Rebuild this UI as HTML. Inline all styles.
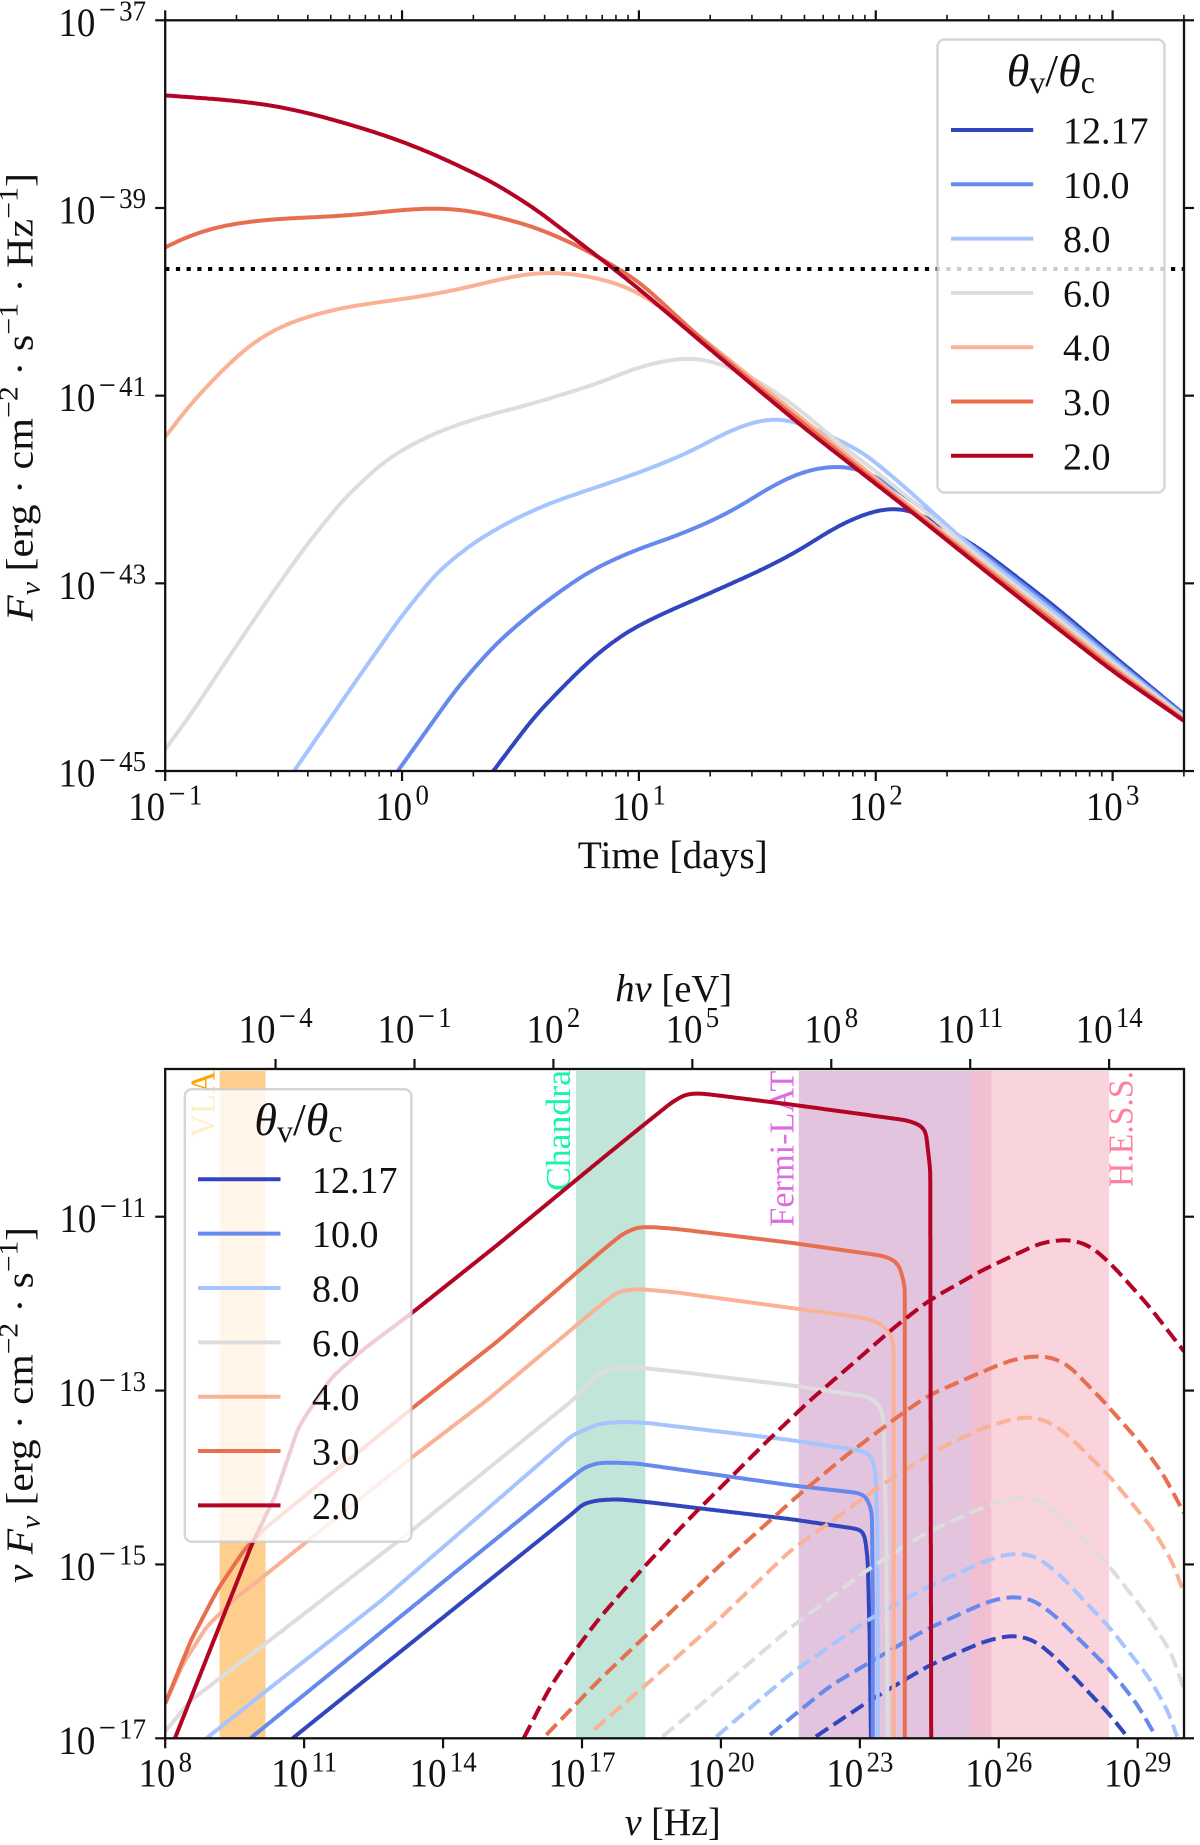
<!DOCTYPE html>
<html lang="en">
<head>
<meta charset="utf-8">
<title>Off-axis light curves and spectra</title>
<style>
html,body{margin:0;padding:0;background:#fff;width:1200px;height:1845px;overflow:hidden}
svg{display:block}
text{font-family:"Liberation Serif","DejaVu Serif",serif;fill:#111}
</style>
</head>
<body>
<svg id="figure" xmlns="http://www.w3.org/2000/svg" width="1200" height="1845" viewBox="0 0 1200 1845">
  <defs>
    <clipPath id="clipTop"><rect x="165.2" y="20.3" width="1018.8" height="750.7"/></clipPath>
    <clipPath id="clipBottom"><rect x="165.2" y="1069" width="1018.8" height="669.3"/></clipPath>
  </defs>
  <g id="panelTop"></g>
  <g id="panelBottom"></g>

  <text transform="translate(32.5,397) rotate(-90)" text-anchor="middle" font-size="38" textLength="448" lengthAdjust="spacingAndGlyphs"><tspan font-style="italic">F</tspan><tspan font-style="italic" font-size="27" dy="7">ν</tspan><tspan dy="-7"> [erg · cm</tspan><tspan font-size="27" dy="-15">−2</tspan><tspan dy="15"> · s</tspan><tspan font-size="27" dy="-15">−1</tspan><tspan dy="15"> · Hz</tspan><tspan font-size="27" dy="-15">−1</tspan><tspan dy="15">]</tspan></text>
  <text x="672.8" y="868" text-anchor="middle" font-size="39" textLength="190" lengthAdjust="spacingAndGlyphs">Time [days]</text>

  <text transform="translate(32.5,1405) rotate(-90)" text-anchor="middle" font-size="38" textLength="356" lengthAdjust="spacingAndGlyphs"><tspan font-style="italic">ν F</tspan><tspan font-style="italic" font-size="27" dy="7">ν</tspan><tspan dy="-7"> [erg · cm</tspan><tspan font-size="27" dy="-15">−2</tspan><tspan dy="15"> · s</tspan><tspan font-size="27" dy="-15">−1</tspan><tspan dy="15">]</tspan></text>
  <text x="672.7" y="1835" text-anchor="middle" font-size="39" textLength="96" lengthAdjust="spacingAndGlyphs"><tspan font-style="italic">ν</tspan> [Hz]</text>
  <text x="673.7" y="1001.7" text-anchor="middle" font-size="39" textLength="117" lengthAdjust="spacingAndGlyphs"><tspan font-style="italic">hν</tspan> [eV]</text>
</svg>
<script>
// ---- shared legend / series metadata ----
const thetaLabels = ['12.17', '10.0', '8.0', '6.0', '4.0', '3.0', '2.0'];
const seriesColors = ['#3146BE', '#6689EE', '#A6C4FE', '#DDDDDD', '#FAB297', '#E86E50', '#B40426'];

// ---- light curve panel: log10(t/days) and log10(F_nu) ----
const lcTickExpX = [-1, 0, 1, 2, 3];
const lcTickExpY = [-37, -39, -41, -43, -45];
const lcMinorMultipliers = [2, 3, 4, 5, 6, 7, 8, 9];
const lcLimitLevel = -39.65;

const lcTime_12_17 = [0.385,0.558,0.719,0.828,0.958,1.103,1.313,1.524,1.67,1.83,1.96,2.056,2.13,2.22,2.44,2.75,3.003,3.301];
const lcFlux_12_17 = [-45,-44.42,-44,-43.74,-43.5,-43.32,-43.09,-42.85,-42.66,-42.4,-42.25,-42.19,-42.2,-42.3,-42.63,-43.234,-43.772,-44.396];
const lcTime_10 = [-0.018,0.075,0.236,0.397,0.558,0.719,0.828,0.99,1.152,1.313,1.427,1.556,1.685,1.8,1.88,1.96,2.09,2.22,2.44,2.75,3.003,3.301];
const lcFlux_10 = [-45,-44.67,-44.1,-43.64,-43.29,-42.99,-42.82,-42.64,-42.5,-42.33,-42.18,-41.97,-41.81,-41.75,-41.75,-41.8,-42,-42.25,-42.66,-43.265,-43.8,-44.406];
const lcTime_8 = [-0.456,-0.328,-0.167,0,0.155,0.316,0.477,0.638,0.828,0.99,1.152,1.23,1.362,1.476,1.588,1.67,1.766,1.947,2.13,2.3,2.44,2.75,3.003,3.301];
const lcFlux_8 = [-45,-44.53,-43.94,-43.34,-42.86,-42.54,-42.31,-42.13,-41.97,-41.83,-41.67,-41.58,-41.4,-41.28,-41.23,-41.28,-41.38,-41.6,-41.99,-42.38,-42.69,-43.3,-43.826,-44.418];
const lcTime_6 = [-1,-0.89,-0.73,-0.569,-0.409,-0.247,-0.086,0.01,0.155,0.316,0.558,0.828,0.99,1.118,1.215,1.313,1.394,1.524,1.67,1.88,2.018,2.27,2.44,2.75,3.003,3.301];
const lcFlux_6 = [-44.77,-44.39,-43.78,-43.18,-42.61,-42.1,-41.72,-41.56,-41.38,-41.24,-41.08,-40.87,-40.7,-40.62,-40.59,-40.63,-40.71,-40.87,-41.13,-41.58,-41.84,-42.36,-42.73,-43.34,-43.857,-44.43];
const lcTime_4 = [-1,-0.89,-0.76,-0.634,-0.505,-0.376,-0.247,-0.086,0.075,0.235,0.397,0.525,0.638,0.751,0.828,0.908,1.005,1.152,1.313,1.524,1.815,2.12,2.44,2.75,3.003,3.301];
const lcFlux_4 = [-41.44,-41.08,-40.73,-40.44,-40.25,-40.14,-40.06,-40,-39.945,-39.87,-39.77,-39.7,-39.685,-39.71,-39.75,-39.8,-39.91,-40.16,-40.48,-40.91,-41.5,-42.13,-42.77,-43.38,-43.89,-44.445];
const lcTime_3 = [-1,-0.893,-0.78,-0.65,-0.489,-0.329,-0.167,0,0.139,0.268,0.397,0.558,0.719,0.815,1,1.265,1.524,1.815,2.12,2.44,2.75,3.003,3.301];
const lcFlux_3 = [-39.42,-39.29,-39.2,-39.145,-39.11,-39.095,-39.066,-39.02,-39,-39.02,-39.09,-39.2,-39.375,-39.5,-39.78,-40.4,-40.95,-41.54,-42.16,-42.795,-43.41,-43.917,-44.455];
const lcTime_2 = [-1,-0.73,-0.537,-0.36,-0.167,0,0.155,0.38,0.558,0.828,0.99,1.265,1.524,1.708,2.159,2.44,2.75,3.003,3.301];
const lcFlux_2 = [-37.8,-37.85,-37.91,-38.01,-38.15,-38.29,-38.45,-38.72,-39,-39.52,-39.84,-40.43,-40.98,-41.365,-42.254,-42.823,-43.444,-43.942,-44.466];

// ---- spectrum panel: log10(nu/Hz) and log10(nu F_nu) ----
const spTickExpX = [8, 11, 14, 17, 20, 23, 26, 29];
const spTickExpEv = [-4, -1, 2, 5, 8, 11, 14];
const spTickExpY = [-11, -13, -15, -17];
const spLogPlanck = -14.383;
const bandNames = ['VLA', 'Chandra', 'Fermi-LAT', 'H.E.S.S.'];
const bandLow = [9.175, 16.87, 21.68, 25.383];
const bandHigh = [10.166, 18.37, 25.84, 28.383];

const spNuA_12_17 = [10.75,16.85,17.02,17.37,17.78,18.37,21.52,23.05,23.11,23.17,23.21,23.24];
const spFluxA_12_17 = [-17,-14.39,-14.3,-14.26,-14.25,-14.28,-14.48,-14.6,-14.68,-14.95,-15.79,-17];
const spNuA_10 = [9.84,16.85,17.06,17.37,17.78,18.2,21.52,23.01,23.14,23.26,23.28,23.28];
const spFluxA_10 = [-17,-13.97,-13.88,-13.83,-13.83,-13.84,-14.09,-14.18,-14.22,-14.39,-15.41,-17];
const spNuA_8 = [8.89,10.12,12.68,16.8,17.37,17.87,18.37,21.52,23.09,23.24,23.34,23.38,23.39];
const spFluxA_8 = [-17,-16.48,-15.41,-13.51,-13.38,-13.36,-13.37,-13.57,-13.7,-13.74,-13.95,-14.64,-17];
const spNuA_6 = [8,8.56,10.12,13.3,16.8,17.37,17.7,18.12,19.03,21.52,23.17,23.36,23.47,23.51,23.57,23.6];
const spFluxA_6 = [-16.92,-16.56,-15.93,-14.62,-13.11,-12.8,-12.74,-12.73,-12.78,-12.94,-13.07,-13.13,-13.22,-13.34,-14.64,-17];
const spNuA_4 = [8,8.39,8.89,9.47,10.21,13.3,14.95,17.37,17.78,18.2,19.03,21.52,23.17,23.51,23.69,23.73,23.73];
const spFluxA_4 = [-16.6,-16.14,-15.72,-15.41,-15.1,-13.78,-13.11,-12.03,-11.86,-11.83,-11.87,-12.05,-12.17,-12.25,-12.36,-12.53,-17];
const spNuA_3 = [8,8.56,9.13,9.71,10.12,13.34,15.16,17.37,17.87,18.2,18.53,19.03,21.52,23.5,23.75,23.86,23.97,23.97];
const spFluxA_3 = [-16.6,-15.87,-15.29,-14.83,-14.6,-13.2,-12.44,-11.42,-11.2,-11.12,-11.12,-11.14,-11.3,-11.45,-11.5,-11.57,-11.8,-17];
const spNuA_2 = [8.21,9.878,10.37,10.87,11.12,11.61,12.27,13.32,15.16,17.37,18.2,18.95,19.24,19.53,19.86,21.52,24,24.25,24.42,24.52,24.54];
const spFluxA_2 = [-17,-14.76,-14.22,-13.43,-13.22,-12.84,-12.53,-12.11,-11.33,-10.36,-10,-9.68,-9.59,-9.58,-9.6,-9.71,-9.89,-9.93,-10,-10.46,-17];

const spNuB_12_17 = [22.05,23.17,24.5,25.66,26.16,26.49,26.83,27.32,28.4,28.77];
const spFluxB_12_17 = [-16.98,-16.58,-16.16,-15.89,-15.82,-15.82,-15.89,-16.12,-16.73,-16.98];
const spNuB_10 = [21.06,22.35,23.17,24.42,25.66,26.08,26.41,26.74,27.24,28.4,28.98,29.35];
const spFluxB_10 = [-16.96,-16.4,-16.14,-15.75,-15.45,-15.38,-15.37,-15.4,-15.6,-16.21,-16.6,-16.94];
const spNuB_8 = [19.9,21.52,23.17,24.42,25.66,26.16,26.49,26.83,27.32,28.4,29.23,29.64,29.85];
const spFluxB_8 = [-16.98,-16.25,-15.64,-15.27,-14.97,-14.88,-14.87,-14.91,-15.12,-15.73,-16.29,-16.67,-16.98];
const spNuB_6 = [18.74,19.86,21.52,23.17,24.42,25.66,26.25,26.58,26.91,27.32,28.4,29.23,29.73,29.98];
const spFluxB_6 = [-16.98,-16.48,-15.72,-15.06,-14.64,-14.34,-14.24,-14.22,-14.26,-14.43,-15.03,-15.6,-16.02,-16.41];
const spNuB_4 = [17.26,17.37,18.37,19.86,21.52,22.27,23.51,24.67,25.66,26.33,26.7,27.07,27.49,28.4,29.31,29.73,30];
const spFluxB_4 = [-16.9,-16.85,-16.39,-15.68,-14.83,-14.55,-14.07,-13.68,-13.43,-13.32,-13.3,-13.35,-13.51,-13.99,-14.58,-14.95,-15.33];
const spNuB_3 = [16.23,16.81,17.37,18.32,20.02,21.68,22.67,23.92,24.5,25.66,26.25,26.74,27.12,27.49,28.24,29.07,29.56,30];
const spFluxB_3 = [-16.96,-16.64,-16.33,-15.85,-14.99,-14.2,-13.76,-13.26,-13.05,-12.78,-12.65,-12.6,-12.61,-12.7,-13.11,-13.61,-13.97,-14.41];
const spNuB_2 = [15.74,16.31,16.81,17.37,18.32,19.36,20.19,21.02,21.93,22.76,23.75,24.5,25.66,26.9,27.41,27.74,28.07,28.49,29.23,30];
const spFluxB_2 = [-17,-16.41,-16.02,-15.62,-15.04,-14.45,-14.01,-13.57,-13.11,-12.73,-12.27,-11.96,-11.61,-11.3,-11.26,-11.28,-11.37,-11.58,-12.02,-12.55];

const lcTimes = [lcTime_12_17, lcTime_10, lcTime_8, lcTime_6, lcTime_4, lcTime_3, lcTime_2];
const lcFluxes = [lcFlux_12_17, lcFlux_10, lcFlux_8, lcFlux_6, lcFlux_4, lcFlux_3, lcFlux_2];
const spSolidNu = [spNuA_12_17, spNuA_10, spNuA_8, spNuA_6, spNuA_4, spNuA_3, spNuA_2];
const spSolidFlux = [spFluxA_12_17, spFluxA_10, spFluxA_8, spFluxA_6, spFluxA_4, spFluxA_3, spFluxA_2];
const spDashNu = [spNuB_12_17, spNuB_10, spNuB_8, spNuB_6, spNuB_4, spNuB_3, spNuB_2];
const spDashFlux = [spFluxB_12_17, spFluxB_10, spFluxB_8, spFluxB_6, spFluxB_4, spFluxB_3, spFluxB_2];

// ---- axis functions ----
const topBox = {l:165.2, r:1184, t:20.3, b:771};
const botBox = {l:165.2, r:1184, t:1069, b:1738.3};
function lcX(logT){ return topBox.l + (logT + 1) * 236.85; }
function lcY(logF){ return topBox.t + (-37 - logF) * 93.84; }
function spX(logNu){ return botBox.l + (logNu - 8) * 46.31; }
function spY(logF){ return botBox.b - (logF + 17) * 86.93; }

const SVG_NS = 'http://www.w3.org/2000/svg';
const panelTop = document.getElementById('panelTop');
const panelBottom = document.getElementById('panelBottom');
function shape(parent, tag, props){
  const node = document.createElementNS(SVG_NS, tag);
  for (const key in props) node.setAttribute(key, props[key]);
  parent.appendChild(node);
  return node;
}
// Rounds the polyline through the read values by walking along its length and averaging neighbours.
function smoothPath(xs, ys, fx, fy, sigma){
  const step = 1.5;
  const p = xs.map((v, i) => [fx(v), fy(ys[i])]);
  const q = [p[0]];
  for (let i = 0; i < p.length - 1; i++) {
    const len = Math.hypot(p[i+1][0] - p[i][0], p[i+1][1] - p[i][1]);
    const n = Math.max(1, Math.round(len / step));
    for (let k = 1; k <= n; k++) {
      q.push([p[i][0] + (p[i+1][0] - p[i][0]) * k / n, p[i][1] + (p[i+1][1] - p[i][1]) * k / n]);
    }
  }
  const s = sigma / step, rMax = Math.ceil(3 * s);
  let d = '';
  q.forEach((pt, i) => {
    const r = Math.min(rMax, i, q.length - 1 - i);
    let sx = 0, sy = 0, sw = 0;
    for (let j = -r; j <= r; j++) {
      const w = Math.exp(-0.5 * j * j / (s * s));
      sx += q[i + j][0] * w; sy += q[i + j][1] * w; sw += w;
    }
    d += (i ? 'L' : 'M') + (sx / sw).toFixed(1) + ' ' + (sy / sw).toFixed(1);
  });
  return d;
}
function powerLabel(parent, x, y, exp, anchor){
  const t = shape(parent, 'text', {transform: 'translate(' + x + ',' + y + ') scale(0.925,1)', 'text-anchor': anchor, 'font-size': 40});
  const base = shape(t, 'tspan', {});
  base.textContent = '10';
  if (exp < 0) {
    const minus = shape(t, 'tspan', {'font-size': 33, dx: 3.6, dy: -15.3, 'letter-spacing': 3.5});
    minus.textContent = '\u2212';
    const digits = shape(t, 'tspan', {'font-size': 29});
    digits.textContent = String(-exp);
  } else {
    const digits = shape(t, 'tspan', {'font-size': 29, dx: 3.6, dy: -15.3});
    digits.textContent = String(exp);
  }
  return t;
}
function tickLine(parent, x1, y1, x2, y2, width){
  return shape(parent, 'line', {x1: x1, y1: y1, x2: x2, y2: y2, stroke: '#111', 'stroke-width': width});
}
function frame(parent, box){
  return shape(parent, 'rect', {x: box.l, y: box.t, width: box.r - box.l, height: box.b - box.t, fill: 'none', stroke: '#111', 'stroke-width': 2.3});
}
function legend(parent, bx, by, bw, bh, lineX0, lineX1, textX, firstY, stepY, titleX, titleY){
  const group = shape(parent, 'g', {});
  
  
  const box = shape(group, 'rect', {x: bx, y: by, width: bw, height: bh, rx: 7, fill: '#fff', 'fill-opacity': 0.8, stroke: '#ccc', 'stroke-opacity': 0.8, 'stroke-width': 2.5});
  
  
  const title = shape(group, 'text', {x: titleX, y: titleY, 'text-anchor': 'middle', 'font-size': 46});
  
  
  const parts = [['\u03B8', 'italic', 46, 0], ['v', 'normal', 32, 7], ['/', 'normal', 46, -7], ['\u03B8', 'italic', 46, 0], ['c', 'normal', 32, 7]];
  parts.forEach(part => {
    const span = shape(title, 'tspan', {'font-style': part[1], 'font-size': part[2], dy: part[3]});
    span.textContent = part[0];
  });
  thetaLabels.forEach((label, i) => {
    const y = firstY + i * stepY;
    const swatch = shape(group, 'line', {x1: lineX0, x2: lineX1, y1: y, y2: y, stroke: seriesColors[i], 'stroke-width': 4});
    
    
    const txt = shape(group, 'text', {x: textX, y: y + 13.5, 'font-size': 38});
    
    
    txt.textContent = label;
  });
}

// ---- draw light curve panel ----
const lcLines = shape(panelTop, 'g', {'clip-path': 'url(#clipTop)', fill: 'none'});


lcTimes.forEach((times, i) => {
  const line = shape(lcLines, 'path', {d: smoothPath(times, lcFluxes[i], lcX, lcY, 15), stroke: seriesColors[i], 'stroke-width': 4, fill: 'none'});
  
  
});
const limitLine = shape(panelTop, 'line', {x1: topBox.l, x2: topBox.r, y1: lcY(lcLimitLevel), y2: lcY(lcLimitLevel), stroke: '#000', 'stroke-width': 4, 'stroke-dasharray': '4.2 6.5'});


legend(panelTop, 937.5, 39.5, 227, 453, 951, 1033.2, 1063, 130, 54.3, 1050.8, 86);

const lcAxes = shape(panelTop, 'g', {});


frame(lcAxes, topBox);
lcTickExpX.forEach(exp => {
  const x = lcX(exp);
  tickLine(lcAxes, x, topBox.b, x, topBox.b + 10, 2.2);
  tickLine(lcAxes, x, topBox.t, x, topBox.t - 10, 2.2);
  const label = powerLabel(lcAxes, x, 820, exp, 'middle');
  
  
  lcMinorMultipliers.forEach(m => {
    const lx = exp + Math.log10(m);
    if (lx > Math.log10(2000) + 1e-6) return;
    tickLine(lcAxes, lcX(lx), topBox.b, lcX(lx), topBox.b + 5.5, 1.6);
    tickLine(lcAxes, lcX(lx), topBox.t, lcX(lx), topBox.t - 5.5, 1.6);
  });
});
lcTickExpY.forEach(exp => {
  const y = lcY(exp);
  tickLine(lcAxes, topBox.l, y, topBox.l - 10, y, 2.2);
  tickLine(lcAxes, topBox.r, y, topBox.r + 10, y, 2.2);
  const label = powerLabel(lcAxes, 146, y + 15.5, exp, 'end');
  
  
});

// ---- draw spectrum panel ----
const bandFills = ['#FD9D1B', '#34A880', '#B66BAC', '#F7BDC9'];
const bandOpacity = [0.5, 0.3, 0.4, 0.65];
const bandTextColors = ['#FFA500', '#18F5A5', '#E06CE4', '#FF7F9F'];
const bandTextX = [214.5, 570, 793.3, 1132.7];
const bandTextBottom = [1137.7, 1191, 1226.7, 1187];
const bandTextLength = [67, 121, 156, 116];
const bands = shape(panelBottom, 'g', {});


bandNames.forEach((name, i) => {
  const x0 = spX(bandLow[i]), x1 = spX(bandHigh[i]);
  const rect = shape(bands, 'rect', {x: x0, y: 1071, width: x1 - x0, height: botBox.b - 1071, fill: bandFills[i], 'fill-opacity': bandOpacity[i]});
  
  
});
const bandLabels = shape(panelBottom, 'g', {'clip-path': 'url(#clipBottom)'});


bandNames.forEach((name, i) => {
  const txt = shape(bandLabels, 'text', {transform: 'translate(' + bandTextX[i] + ',' + bandTextBottom[i] + ') rotate(-90)', 'font-size': 35, textLength: bandTextLength[i], lengthAdjust: 'spacingAndGlyphs', style: 'fill:' + bandTextColors[i]});
  
  
  txt.textContent = name;
});
const spLines = shape(panelBottom, 'g', {'clip-path': 'url(#clipBottom)', fill: 'none'});


spSolidNu.forEach((nu, i) => {
  const solid = shape(spLines, 'path', {d: smoothPath(nu, spSolidFlux[i], spX, spY, 5), stroke: seriesColors[i], 'stroke-width': 4, fill: 'none'});
  
  
  const dash = shape(spLines, 'path', {d: smoothPath(spDashNu[i], spDashFlux[i], spX, spY, 9), stroke: seriesColors[i], 'stroke-width': 4, 'stroke-dasharray': '14.8 6.4', fill: 'none'});
  
  
});
legend(panelBottom, 184.8, 1089.3, 226.6, 452.4, 198, 280.5, 312, 1179.3, 54.35, 298.5, 1135);

const spAxes = shape(panelBottom, 'g', {});


frame(spAxes, botBox);
spTickExpX.forEach(exp => {
  const x = spX(exp);
  tickLine(spAxes, x, botBox.b, x, botBox.b + 10, 2.2);
  const label = powerLabel(spAxes, x, 1786.7, exp, 'middle');
  
  
});
spTickExpEv.forEach(exp => {
  const x = spX(exp - spLogPlanck);
  tickLine(spAxes, x, botBox.t, x, botBox.t - 10, 2.2);
  const label = powerLabel(spAxes, x, 1042.3, exp, 'middle');
  
  
});
spTickExpY.forEach(exp => {
  const y = spY(exp);
  tickLine(spAxes, botBox.l, y, botBox.l - 10, y, 2.2);
  tickLine(spAxes, botBox.r, y, botBox.r + 10, y, 2.2);
  const label = powerLabel(spAxes, 146, y + 15.5, exp, 'end');
  
  
});
</script>
</body>
</html>
